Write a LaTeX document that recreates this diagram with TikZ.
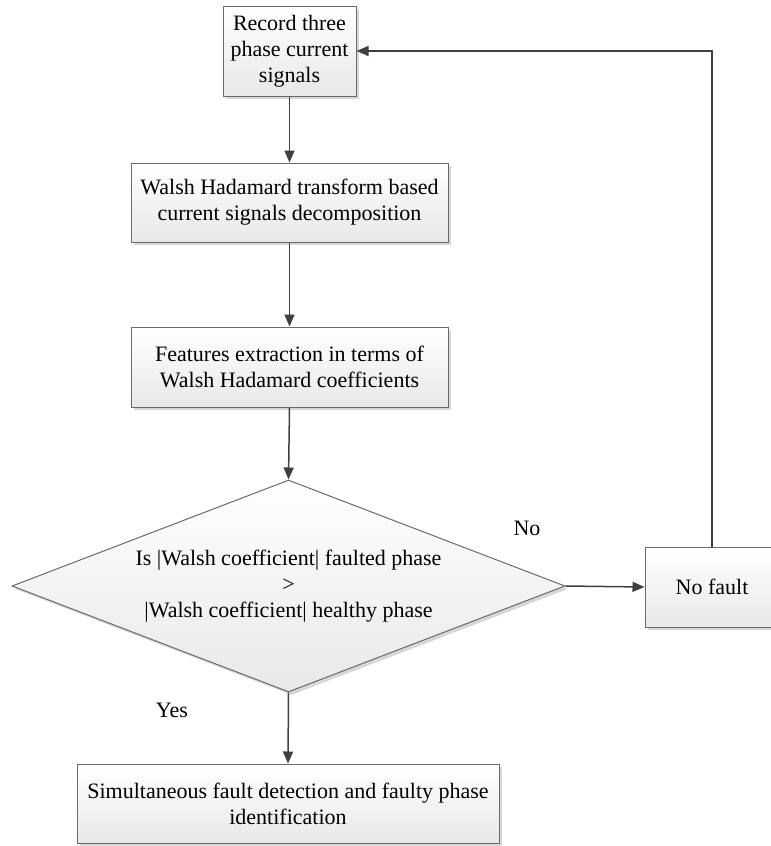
\documentclass[tikz,border=0pt]{standalone}
\usepackage{fontspec}
\setmainfont{Liberation Serif}
\usetikzlibrary{arrows.meta,shapes.geometric,shadows}
\definecolor{edge}{HTML}{6A6A6A}
\definecolor{conn}{HTML}{404040}
\tikzset{
  procbox/.style={draw=edge, line width=1pt, top color=white, bottom color=black!9,
    drop shadow={shadow xshift=3pt, shadow yshift=-3pt, fill=black!35, opacity=0.45},
    inner sep=0pt, align=center, font=\fontsize{22}{26}\selectfont},
  decbox/.style={diamond, shape aspect=2.608, procbox},
  conn/.style={draw=conn, line width=1.5pt, -{Triangle[length=12pt,width=10pt]}},
  lbl/.style={font=\fontsize{22}{26}\selectfont, inner sep=0pt}
}
\begin{document}
\begin{tikzpicture}[x=1pt,y=-1pt]
\useasboundingbox (0,0) rectangle (771,846);
\node[procbox, minimum width=133pt, minimum height=90pt] (b1) at (289.5,51) {Record three\\phase current\\signals};
\node[procbox, minimum width=317pt, minimum height=79pt] (b2) at (289.5,202.5) {Walsh Hadamard transform based\\current signals decomposition};
\node[procbox, minimum width=317pt, minimum height=80pt] (b3) at (289.5,367) {Features extraction in terms of\\Walsh Hadamard coefficients};
\node[decbox, minimum width=553pt, minimum height=212pt] (d) at (288.5,586) {Is |Walsh coefficient| faulted phase\\>\\|Walsh coefficient| healthy phase};
\node[procbox, minimum width=134pt, minimum height=80pt] (nf) at (712,587) {No fault};
\node[procbox, minimum width=422pt, minimum height=79pt] (b5) at (288,803.5) {Simultaneous fault detection and faulty phase\\identification};
\node[lbl] (no) at (527,528) {No};
\node[lbl] (yes) at (172,710) {Yes};
\draw[conn] (b1.south) -- (b2.north);
\draw[conn] (b2.south) -- (b3.north);
\draw[conn] (b3.south) -- (d.north);
\draw[conn] (d.south) -- (b5.north);
\draw[conn] (d.east) -- (nf.west);
\draw[conn] (nf.north) |- (b1.east);
\end{tikzpicture}
\end{document}
